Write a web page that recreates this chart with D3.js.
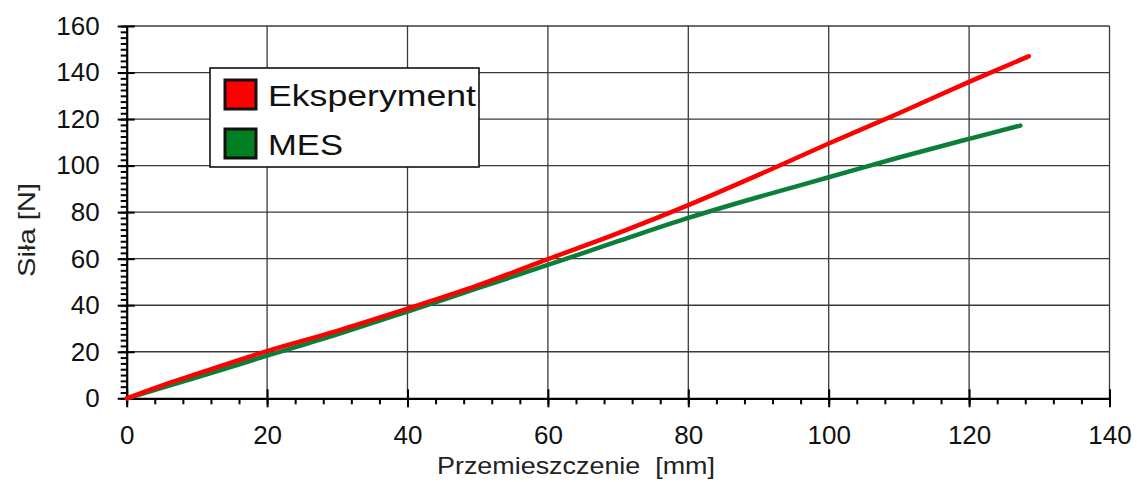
<!DOCTYPE html>
<html>
<head>
<meta charset="utf-8">
<script src="https://cdn.jsdelivr.net/npm/d3@7"></script>
<style>
  body { margin: 0; background: #fff; }
  text { font-family: "Liberation Sans", Arial, sans-serif; white-space: pre; }
</style>
</head>
<body>
<svg id="chart" width="1137" height="482"></svg>
<script>
// (displacement mm -> force N)
var expX = [0, 5, 10, 20, 30, 40, 50, 60, 70, 80, 90, 100, 110, 120, 128.5];
var expY = [0, 5.5, 10.5, 20.3, 29, 38.5, 48.5, 59.8, 71, 83, 96, 109.5, 122.5, 136, 147];
var mesX = [0, 10, 20, 30, 40, 50, 60, 70, 80, 90, 100, 110, 120, 127.3];
var mesY = [0, 9, 18.3, 27.5, 37.3, 47.3, 57.3, 67.5, 77.5, 86.5, 95, 103.5, 111.5, 117.2];
var seriesNames = ["Eksperyment", "MES"];
var xTicks = [0, 20, 40, 60, 80, 100, 120, 140];
var yTicks = [0, 20, 40, 60, 80, 100, 120, 140, 160];

var svg = d3.select("#chart");
var plotL = 126.7, plotR = 1109.5, plotT = 26, plotB = 398.3;

var x = d3.scaleLinear().domain([0, 140]).range([plotL, plotR]);
var y = d3.scaleLinear().domain([0, 160]).range([plotB, plotT]);

// grid
var grid = svg.append("g").attr("stroke", "#3a3a3a").attr("stroke-width", 1.3);
grid.selectAll(".gy").data(yTicks.slice(1)).enter().append("line")
    .attr("x1", plotL).attr("x2", plotR)
    .attr("y1", d => y(d)).attr("y2", d => y(d));
grid.selectAll(".gx").data(xTicks.slice(1)).enter().append("line")
    .attr("y1", plotT).attr("y2", plotB)
    .attr("x1", d => x(d)).attr("x2", d => x(d));

// minor ticks
var yMinor = d3.range(0, 160.1, 2.5);
var xMinor = d3.range(0, 140.1, 4);
svg.append("g").attr("transform", "translate(" + plotL + ",0)")
    .call(d3.axisLeft(y).tickValues(yMinor).tickSize(6).tickFormat(""))
    .call(g => g.select(".domain").remove())
    .selectAll("line").attr("stroke-width", 2);
svg.append("g").attr("transform", "translate(0," + plotB + ")")
    .call(d3.axisBottom(x).tickValues(xMinor).tickSize(6).tickFormat(""))
    .call(g => g.select(".domain").remove())
    .selectAll("line").attr("stroke-width", 2);

// major ticks, outward with labels
var yAxis = svg.append("g").attr("transform", "translate(" + plotL + ",0)")
    .call(d3.axisLeft(y).tickValues(yTicks).tickSize(9).tickPadding(18).tickSizeOuter(0));
yAxis.select(".domain").attr("stroke-width", 2.2);
yAxis.selectAll("line").attr("stroke-width", 2);
yAxis.selectAll("text").attr("font-size", 26).attr("fill", "#111");

var xAxis = svg.append("g").attr("transform", "translate(0," + plotB + ")")
    .call(d3.axisBottom(x).tickValues(xTicks).tickSize(9).tickPadding(18).tickSizeOuter(0));
xAxis.select(".domain").attr("stroke-width", 2.2);
xAxis.selectAll("line").attr("stroke-width", 2);
xAxis.selectAll("text").attr("font-size", 26).attr("fill", "#111");

// inward halves of the major ticks
svg.append("g").attr("transform", "translate(" + plotL + ",0)")
    .call(d3.axisLeft(y).tickValues(yTicks).tickSize(-8).tickFormat("").tickSizeOuter(0))
    .call(g => g.select(".domain").remove())
    .selectAll("line").attr("stroke-width", 2);
svg.append("g").attr("transform", "translate(0," + plotB + ")")
    .call(d3.axisBottom(x).tickValues(xTicks).tickSize(-9).tickFormat("").tickSizeOuter(0))
    .call(g => g.select(".domain").remove())
    .selectAll("line").attr("stroke-width", 2);

// lines
var line = d3.line().x(d => x(d[0])).y(d => y(d[1])).curve(d3.curveMonotoneX);
svg.append("path").datum(mesX.map((v, i) => [v, mesY[i]]))
    .attr("fill", "none").attr("stroke", "#0b7f3a").attr("stroke-width", 4.5)
    .attr("stroke-linecap", "round").attr("d", line);
svg.append("path").datum(expX.map((v, i) => [v, expY[i]]))
    .attr("fill", "none").attr("stroke", "#ff0000").attr("stroke-width", 4.5)
    .attr("stroke-linecap", "round").attr("d", line);

// axis titles
svg.append("text").attr("x", 576).attr("y", 474).attr("text-anchor", "middle")
    .attr("font-size", 24).attr("fill", "#222")
    .attr("textLength", 278).attr("lengthAdjust", "spacingAndGlyphs")
    .text("Przemieszczenie  [mm]");
svg.append("text").attr("transform", "translate(35,230) rotate(-90)")
    .attr("text-anchor", "middle").attr("font-size", 24).attr("fill", "#222")
    .attr("textLength", 94).attr("lengthAdjust", "spacingAndGlyphs")
    .text("Siła [N]");

// legend
var legend = svg.append("g");
legend.append("rect").attr("x", 210).attr("y", 68).attr("width", 269).attr("height", 99)
    .attr("fill", "#fff").attr("stroke", "#111").attr("stroke-width", 1.6);
var swatch = ["#ff0000", "#008020"];
seriesNames.forEach(function(name, i) {
    var yy = 80 + i * 49;
    legend.append("rect").attr("x", 225).attr("y", yy).attr("width", 31).attr("height", 29)
        .attr("fill", swatch[i]).attr("stroke", "#111").attr("stroke-width", 3);
    legend.append("text").attr("x", 268).attr("y", yy + 26)
        .attr("font-size", 30).attr("fill", "#111")
        .attr("textLength", i === 0 ? 208 : 75).attr("lengthAdjust", "spacingAndGlyphs")
        .text(name);
});
</script>
</body>
</html>
